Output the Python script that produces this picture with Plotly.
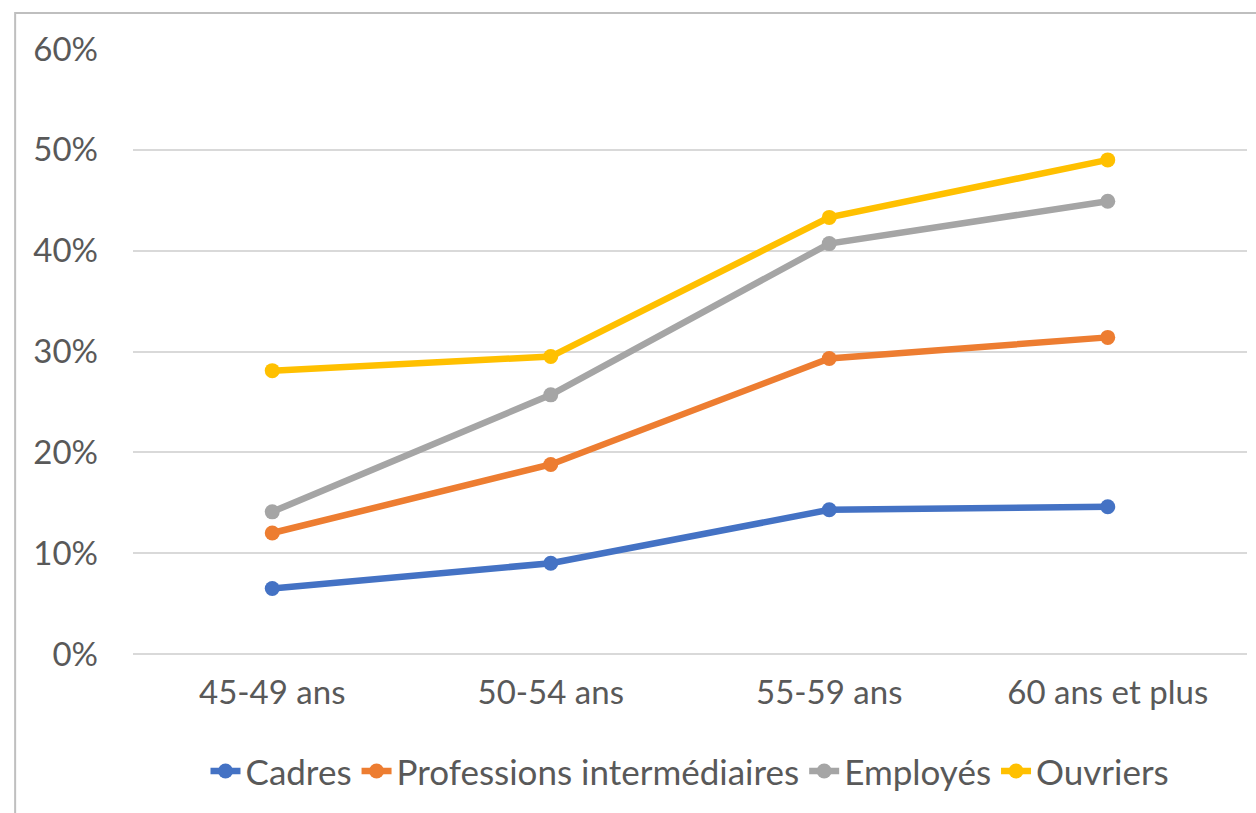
import plotly.graph_objects as go

categories = ["45-49 ans", "50-54 ans", "55-59 ans", "60 ans et plus"]
cadres = [0.065, 0.090, 0.143, 0.146]
prof_inter = [0.120, 0.188, 0.293, 0.314]
employes = [0.141, 0.257, 0.407, 0.449]
ouvriers = [0.281, 0.295, 0.433, 0.490]

series = [
    ("Cadres", cadres, "#4472C4"),
    ("Professions intermédiaires", prof_inter, "#ED7D31"),
    ("Employés", employes, "#A5A5A5"),
    ("Ouvriers", ouvriers, "#FFC000"),
]

fig = go.Figure()
for name, vals, color in series:
    fig.add_trace(go.Scatter(
        x=categories, y=vals, name=name, mode="lines+markers",
        line=dict(color=color, width=6.5),
        marker=dict(color=color, size=15),
    ))

font_family = "Lato, 'Open Sans', sans-serif"
fs = 33
fig.update_layout(
    width=1256, height=813,
    margin=dict(l=133, r=9, t=49, b=159),
    paper_bgcolor="white", plot_bgcolor="white",
    font=dict(family=font_family, color="#595959", size=fs),
    showlegend=True,
    legend=dict(orientation="h", x=0.5, xanchor="center", y=-0.145, yanchor="top",
                font=dict(size=35, color="#595959"), itemwidth=30, tracegroupgap=0),
    xaxis=dict(type="category", range=[-0.5, 3.5], showgrid=False, showline=False,
               zeroline=False, ticks="", tickfont=dict(size=fs, color="#595959"),
               ticklabelstandoff=16, fixedrange=True),
    yaxis=dict(range=[0, 0.6], dtick=0.1, tickformat=".0%", showgrid=True,
               gridcolor="#D9D9D9", gridwidth=1.5, zeroline=True, zerolinecolor="#D9D9D9",
               zerolinewidth=1.5, showline=False, ticks="",
               tickfont=dict(size=fs, color="#595959"), ticklabelstandoff=34,
               fixedrange=True),
    shapes=[dict(type="rect", xref="paper", yref="paper",
                 x0=-0.1058, x1=1.05, y0=-0.5, y1=1.0595,
                 line=dict(color="#BFBFBF", width=2), fillcolor="rgba(0,0,0,0)",
                 layer="below")],
)

fig.write_html("out.html")
